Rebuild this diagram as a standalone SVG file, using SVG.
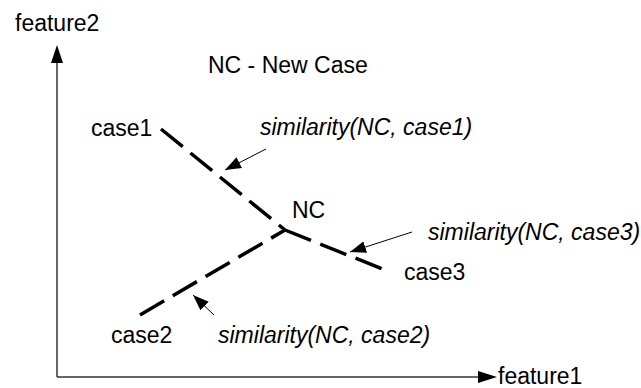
<svg xmlns="http://www.w3.org/2000/svg" width="641" height="388" viewBox="0 0 641 388">
<style>
text{font-family:"Liberation Sans",Arial,sans-serif;font-size:23px;fill:#000}
.it{font-style:italic}
.axis{stroke:#333;stroke-width:1.5;fill:none}
.dash{stroke:#000;stroke-width:3.5;fill:none;stroke-dasharray:28 10}
.ptr{stroke:#000;stroke-width:1;fill:none}
</style>
<defs>
<marker id="ahs" markerWidth="16" markerHeight="12" refX="16" refY="6" orient="auto" markerUnits="userSpaceOnUse"><path d="M0,0 L16,6 L0,12 Z" fill="#000"/></marker>
</defs>
<g id="axes">
<path class="axis" d="M57,377 L57,60"/>
<path class="axis" d="M57,377 L480,377"/>
<path d="M57,45 L51,63 L63,63 Z" fill="#000"/>
<path d="M497,377 L478,371 L478,383 Z" fill="#000"/>
</g>
<g id="labels">
<text x="15" y="31">feature2</text>
<text x="498" y="384">feature1</text>
<text x="208" y="73">NC - New Case</text>
</g>
<g id="case1"><text x="91" y="136">case1</text></g>
<g id="case2"><text x="111" y="343">case2</text></g>
<g id="case3"><text x="404" y="280">case3</text></g>
<g id="NC"><text x="292" y="218">NC</text></g>
<g id="sim1"><text class="it" x="260" y="135">similarity(NC, case1)</text></g>
<g id="sim2"><text class="it" x="218" y="343">similarity(NC, case2)</text></g>
<g id="sim3"><text class="it" x="428" y="240">similarity(NC, case3)</text></g>
<g id="connectors">
<path class="dash" d="M161,129 L285,230"/>
<path class="dash" d="M140,315 L285,230"/>
<path class="dash" d="M285,230 L385,270"/>
<path class="ptr" d="M266,149 L225,170" marker-end="url(#ahs)"/>
<path class="ptr" d="M214,315 L193,295" marker-end="url(#ahs)"/>
<path class="ptr" d="M412,232 L350,252" marker-end="url(#ahs)"/>
</g>
</svg>
